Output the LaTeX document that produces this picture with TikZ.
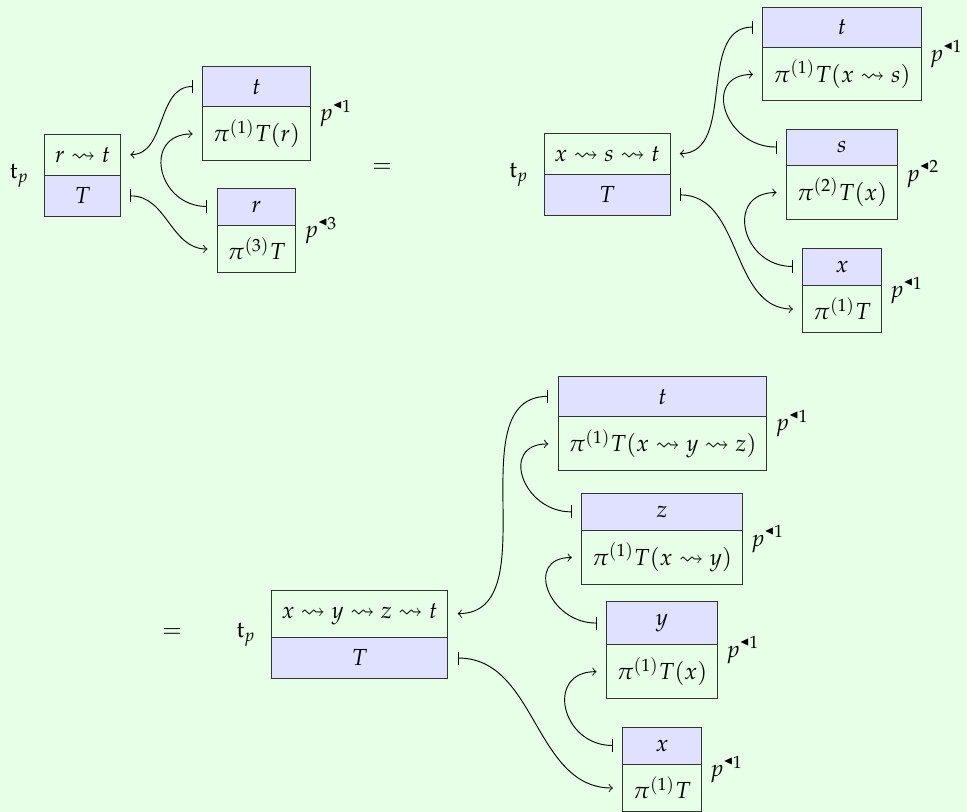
\documentclass[tikz,border=0pt]{standalone}
\usepackage{amsmath}
\usepackage{amssymb}
\usepackage{mathpazo}
\usepackage{tikz}
\usetikzlibrary{shapes.multipart,calc}

\definecolor{bgcol}{RGB}{230,255,230}
\definecolor{partcol}{RGB}{224,224,255}

\newcommand{\ltri}{\raisebox{0.35ex}{\tiny$\blacktriangleleft$}}

\tikzset{
  cell/.style={rectangle split, rectangle split parts=2, draw=black!80,
    inner xsep=4.5pt, inner ysep=5.2pt,
    rectangle split part fill={partcol,bgcol}},
  headcell/.style={cell, rectangle split part fill={bgcol,partcol}},
  link/.style={|->},
  backlink/.style={|->, looseness=1.75}
}

\begin{document}
\begin{tikzpicture}[x=0.43pt,y=-0.43pt]
  \fill[bgcol] (0,0) rectangle (967,812);
  \useasboundingbox (0,0) rectangle (967,812);

  % first line
  \node[headcell] (A) at (82.5,175.5) {$r \rightsquigarrow t$ \nodepart{two} $T$};
  \node[cell] (A1) at (256.5,113.5) {$t$ \nodepart{two} $\pi^{(1)}T(r)$};
  \node[cell] (A2) at (256.5,230.5) {$r$ \nodepart{two} $\pi^{(3)}T$};
  \node (eq1) at (382,168) {$=$};
  \node[headcell] (B) at (607,174.5) {$x \rightsquigarrow s \rightsquigarrow t$ \nodepart{two} $T$};
  \node[cell] (B1) at (842,54) {$t$ \nodepart{two} $\pi^{(1)}T(x \rightsquigarrow s)$};
  \node[cell] (B2) at (842,174) {$s$ \nodepart{two} $\pi^{(2)}T(x)$};
  \node[cell] (B3) at (842,290.5) {$x$ \nodepart{two} $\pi^{(1)}T$};

  % second line
  \node (eq2) at (172,633) {$=$};
  \node[headcell] (C) at (359.5,634.5) {$x \rightsquigarrow y \rightsquigarrow z \rightsquigarrow t$ \nodepart{two} $T$};
  \node[cell] (C1) at (662.5,423.5) {$t$ \nodepart{two} $\pi^{(1)}T(x \rightsquigarrow y \rightsquigarrow z)$};
  \node[cell] (C2) at (662,539) {$z$ \nodepart{two} $\pi^{(1)}T(x \rightsquigarrow y)$};
  \node[cell] (C3) at (662,650) {$y$ \nodepart{two} $\pi^{(1)}T(x)$};
  \node[cell] (C4) at (662,769.5) {$x$ \nodepart{two} $\pi^{(1)}T$};

  % labels
  \foreach \n in {A,B,C}
    \node[left=3pt] (t\n) at (\n.west) {$\mathrm{t}_p$};
  \foreach \n/\k in {A1/1,A2/3,B1/1,B2/2,B3/1,C1/1,C2/1,C3/1,C4/1}
    \node[right] (p\n) at (\n.east) {$p^{\ltri\k}$};

  % ends of the connectors
  \foreach \n in {A,A1,A2,B,B1,B2,B3,C,C1,C2,C3,C4} {
    \coordinate (\n-tw) at ($(\n.north west)!.5!(\n.text split west)+(-4pt,0)$);
    \coordinate (\n-bw) at ($(\n.text split west)!.5!(\n.south west)+(-4pt,0)$);
    \coordinate (\n-te) at ($(\n.north east)!.5!(\n.text split east)+(4pt,0)$);
    \coordinate (\n-be) at ($(\n.text split east)!.5!(\n.south east)+(4pt,0)$);
  }

  \draw[link] (A1-tw) to[out=180,in=0] (A-te);
  \draw[backlink] (A2-tw) to[out=180,in=180] (A1-bw);
  \draw[link] (A-be) to[out=0,in=180] (A2-bw);

  \draw[link] (B1-tw) to[out=180,in=0] (B-te);
  \draw[backlink] (B2-tw) to[out=180,in=180] (B1-bw);
  \draw[backlink] (B3-tw) to[out=180,in=180] (B2-bw);
  \draw[link] (B-be) to[out=0,in=180] (B3-bw);

  \draw[link] (C1-tw) to[out=180,in=0] (C-te);
  \draw[backlink] (C2-tw) to[out=180,in=180] (C1-bw);
  \draw[backlink] (C3-tw) to[out=180,in=180] (C2-bw);
  \draw[backlink] (C4-tw) to[out=180,in=180] (C3-bw);
  \draw[link] (C-be) to[out=0,in=180] (C4-bw);
\end{tikzpicture}
\end{document}
